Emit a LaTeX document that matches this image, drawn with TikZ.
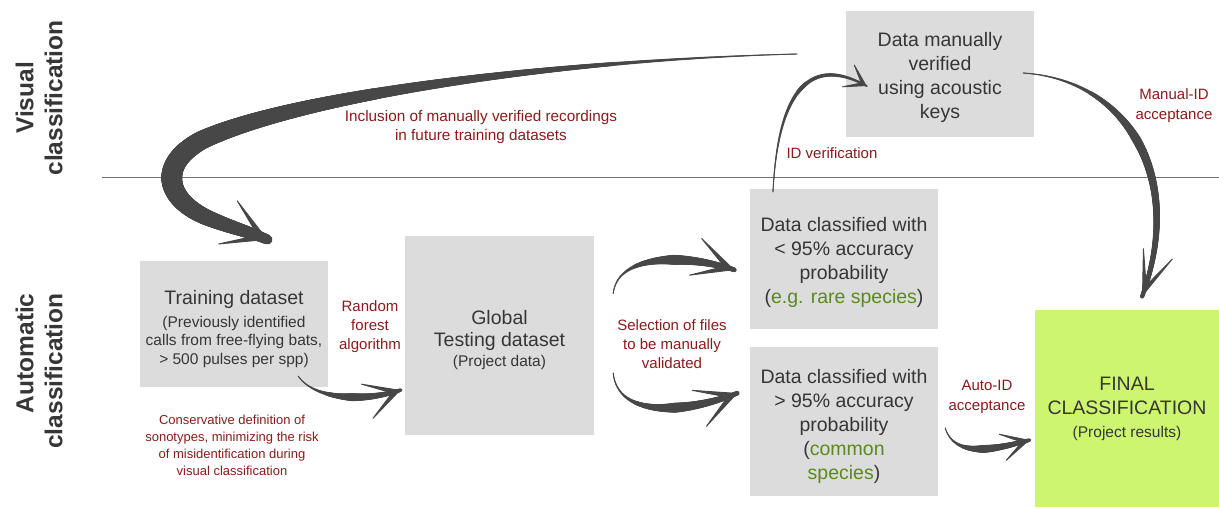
\documentclass[tikz,border=0pt]{standalone}
\usepackage{fontspec}
\setmainfont{Liberation Sans}
\usetikzlibrary{arrows.meta,decorations.markings,calc}
\definecolor{boxg}{HTML}{DCDCDC}
\definecolor{txtc}{HTML}{363636}
\definecolor{labc}{HTML}{8B1A1A}
\definecolor{grnc}{HTML}{5A8A1E}
\definecolor{finc}{HTML}{CDF56F}
\definecolor{brushc}{HTML}{474747}
\definecolor{sepc}{HTML}{707070}
\newcommand\fsz[2]{\fontsize{#1}{#2}\selectfont}
\newcommand\smalltx{\fsz{15.5}{18.5}}
\newcommand\lift[1]{\rule{0pt}{#1pt}}
\tikzset{
  box/.style={fill=boxg, draw=none, inner sep=0pt, text=txtc, align=center, font=\fsz{19.5}{24}},
  lbl/.style={text=labc, align=center, inner sep=0pt},
  brush/.style 2 args={draw=brushc, fill=none, line width=0.9pt, line cap=round,
    postaction={decorate, decoration={markings,
      mark=between positions 0 and 1 step 0.7pt with {%
        \pgfmathsetmacro\brushT{\pgfkeysvalueof{/pgf/decoration/mark info/distance from start}/\pgfdecoratedpathlength}%
        \pgfmathsetmacro\brushR{0.5+(\brushT<#2 ? #1*(\brushT/#2)*sqrt(\brushT/#2) : #1*(1-0.6*(\brushT-#2)/(1-#2)))}%
        \fill[brushc] (0,0) circle[radius=\brushR pt];
      }}}},
}
\begin{document}
\begin{tikzpicture}[x=1pt,y=-1pt]
\useasboundingbox (0,0) rectangle (1219,507);

% boxes
\node[box, minimum width=188pt, minimum height=126pt] (train) at (234,324)
  {\lift{24}Training dataset\\[-1pt]\smalltx (Previously identified\\[-5.5pt]\smalltx calls from free-flying bats,\\[-5.5pt]\smalltx > 500 pulses per spp)};
\node[box, minimum width=189pt, minimum height=199pt] (global) at (499.5,335.5)
  {\lift{24}Global\\[-2pt]Testing dataset\\[-4pt]\smalltx (Project data)};
\node[box, minimum width=188pt, minimum height=140pt] (lo) at (844,259)
  {\lift{21}Data classified with\\< 95\% accuracy\\probability\\(\textcolor{grnc}{e.g. rare species})};
\node[box, minimum width=188pt, minimum height=149pt] (hi) at (844,421.5)
  {\lift{25}Data classified with\\> 95\% accuracy\\probability\\(\textcolor{grnc}{common}\\\textcolor{grnc}{species})};
\node[box, minimum width=188pt, minimum height=126pt] (man) at (940,74)
  {\lift{22}Data manually\\verified\\using acoustic\\keys};
\node[box, fill=finc, minimum width=184pt, minimum height=197pt] (final) at (1127,408.5)
  {FINAL\\CLASSIFICATION\\[-1pt]\smalltx (Project results)};

% side labels
\node[rotate=90, align=center, text=txtc, font=\bfseries\fsz{24.5}{29}] (vis) at (39,98) {Visual\\classification};
\node[rotate=90, align=right, text=txtc, font=\bfseries\fsz{24.5}{29}] (auto) at (39,371) {Automatic\\classification};

% separator
\coordinate (sepL) at (102,177);
\coordinate (sepR) at (1219,177);
\draw[sepc, line width=0.9pt] (sepL) -- (sepR);

% labels
\node[lbl, font=\fsz{15}{19}] (rf) at (370,327) {Random\\forest\\algorithm};
\node[lbl, font=\fsz{13}{17}] (cons) at (232,445.5) {Conservative definition of\\sonotypes, minimizing the risk\\of misidentification during\\visual classification};
\node[lbl, font=\fsz{15}{19}] (sel) at (672,344) {Selection of files\\to be manually\\validated};
\node[lbl, font=\fsz{15}{19}] (idv) at (832,153) {ID verification};
\node[lbl, font=\fsz{15}{20}] (mida) at (1174,106) {Manual-ID\\acceptance};
\node[lbl, font=\fsz{15}{20}] (aida) at (987,397) {Auto-ID\\acceptance};
\node[lbl, font=\fsz{15.3}{18.5}] (incl) at (481,127) {Inclusion of manually verified recordings\\in future training datasets};

% brush arrows
\draw[brush={3.5}{0.55}, -{Stealth[length=42pt,width=44pt,inset=32pt]}]
  ($(train.south east)+(-30,-11)$) .. controls (315,400) and (365,402) .. ($(global.west)+(-4,54.5)$);
\draw[brush={4.5}{0.55}, -{Stealth[length=48pt,width=46pt,inset=36pt]}]
  ($(global.east)+(19,-42)$) .. controls (618,252) and (690,255) .. ($(lo.west)+(-15,11)$);
\draw[brush={4.5}{0.55}, -{Stealth[length=48pt,width=46pt,inset=36pt]}]
  ($(global.east)+(19,37.5)$) .. controls (618,420) and (690,412) .. ($(hi.west)+(-12,-28.5)$);
\draw[brush={3.5}{0.5}, -{Stealth[length=34pt,width=34pt,inset=25pt]}]
  ($(hi.east)+(7,6.5)$) .. controls (955,460) and (1000,448) .. ($(final.west)+(-5,31.5)$);
\draw[brush={1.6}{0.6}, -{Stealth[length=26pt,width=32pt,inset=19pt]}]
  ($(lo.north)+(-71,3)$) .. controls (778,90) and (810,55) .. ($(man.west)+(21,12)$);
\draw[brush={4}{0.45}, -{Stealth[length=55pt,width=38pt,inset=42pt]}]
  ($(man.east)+(-11,-1)$) .. controls (1130,80) and (1185,180) .. ($(final.north)+(15,-13)$);
\draw[brush={10}{0.83}, -{Stealth[length=50pt,width=55pt,inset=38pt]}]
  ($(man.west)+(-49,-20)$) .. controls (560,60) and (300,95) .. (202,140)
  .. controls (156,165) and (166,200) .. (208,218)
  .. controls (232,228) and (250,232) .. ($(train.north)+(34,-21)$);
\end{tikzpicture}
\end{document}
